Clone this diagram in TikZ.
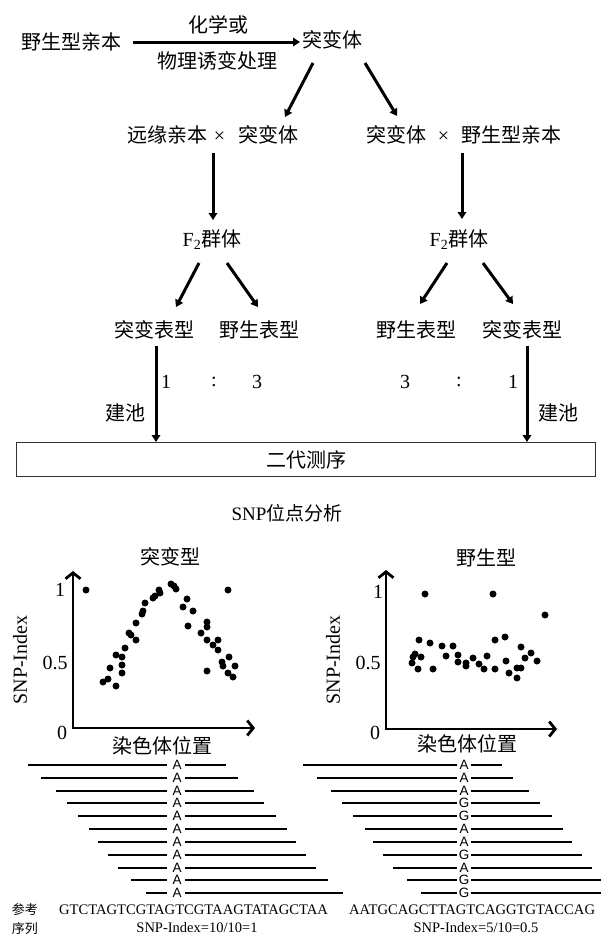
\documentclass[tikz,border=0pt]{standalone}
\usepackage{fontspec}
\setmainfont{Liberation Serif}
\newfontfamily\cjk{Noto Sans CJK SC}
\newfontfamily\arialf{Liberation Sans}
\usetikzlibrary{arrows.meta}
\begin{document}
\begin{tikzpicture}[x=1pt,y=-1pt,
  zh/.style={font=\cjk\fontsize{20}{24}\selectfont, inner sep=0pt},
  rm/.style={font=\fontsize{20}{24}\selectfont, inner sep=0pt},
  arr/.style={line width=3pt, -{Triangle[length=7pt,width=8.5pt]}},
  ax/.style={line width=2.8pt, {Straight Barb[length=6pt,width=15pt]}-{Straight Barb[length=6pt,width=15pt]}},
  rd/.style={line width=2pt},
  base/.style={font=\arialf\fontsize{13.5}{14}\selectfont, inner sep=0pt},
  seqt/.style={font=\fontsize{14.6}{16}\selectfont, inner sep=0pt},
  dotc/.style={fill=black}
]
\fill[white] (0,0) rectangle (601,937);
\useasboundingbox (0,0) rectangle (601,937);

% ---------- top flow ----------
\node[zh] (n1) at (71,42) {野生型亲本};
\node[zh] (n2) at (332,40) {突变体};
\node[zh] (lab1) at (218,25) {化学或};
\node[zh] (lab2) at (217,61) {物理诱变处理};
\draw[arr] ([shift={(62,0)}]n1.center) -- ([shift={(-32,2)}]n2.center);

\node[rm] (c1) at (213,135) {{\cjk 远缘亲本}\hspace{6pt}×\hspace{13pt}{\cjk 突变体}};
\node[rm] (c2) at (464,135) {{\cjk 突变体}\hspace{11pt}×\hspace{12pt}{\cjk 野生型亲本}};
\draw[arr] ([shift={(-19,23)}]n2.center) -- ([shift={(72,-18)}]c1.center);
\draw[arr] ([shift={(33,23)}]n2.center) -- ([shift={(-67,-19)}]c2.center);

\node[rm] (fL) at (212,240) {F\textsubscript{2}{\cjk 群体}};
\node[rm] (fR) at (459,240) {F\textsubscript{2}{\cjk 群体}};
\draw[arr] ([shift={(0,18)}]c1.center) -- ([shift={(1,-20)}]fL.center);
\draw[arr] ([shift={(-2,18)}]c2.center) -- ([shift={(3,-21)}]fR.center);

\node[zh] (pL1) at (154,330) {突变表型};
\node[zh] (pL2) at (259,330) {野生表型};
\node[zh] (pR1) at (416,330) {野生表型};
\node[zh] (pR2) at (522,330) {突变表型};
\draw[arr] ([shift={(-13,23)}]fL.center) -- ([shift={(22,-23)}]pL1.center);
\draw[arr] ([shift={(15,23)}]fL.center) -- ([shift={(-1,-23)}]pL2.center);
\draw[arr] ([shift={(-12,23)}]fR.center) -- ([shift={(4,-26)}]pR1.center);
\draw[arr] ([shift={(24,23)}]fR.center) -- ([shift={(-9,-26)}]pR2.center);

\node[rm] (r1) at (166,382) {1};
\node[rm] (r2) at (214,382) {:};
\node[rm] (r3) at (257,382) {3};
\node[rm] (r4) at (405,382) {3};
\node[rm] (r5) at (459,382) {:};
\node[rm] (r6) at (513,382) {1};
\node[zh] (jL) at (125,413) {建池};
\node[zh] (jR) at (558,413) {建池};

\node[draw=black!80, line width=1pt, minimum width=579pt, minimum height=34pt, inner sep=0pt] (box) at (305.5,459) {};
\node[zh] (boxt) at (306,460) {二代测序};
\draw[arr] ([shift={(2,16)}]pL1.center) -- ([shift={(-149.5,-17)}]box.center);
\draw[arr] ([shift={(5,16)}]pR2.center) -- ([shift={(221.5,-17)}]box.center);

\node[rm, font=\fontsize{19}{22}\selectfont] (snp) at (287,513) {SNP{\cjk 位点分析}};

% ---------- left plot ----------
\node[zh] (tL) at (170,557) {突变型};
\coordinate (oL) at (73,728);
\coordinate (yL) at (73,571);
\coordinate (xL) at (255,728);
\draw[ax] (yL) -- (oL) -- (xL);
\node[rm] (l1) at (60,590) {1};
\node[rm] (l05) at (55,663) {0.5};
\node[rm] (l0) at (62,733) {0};
\node[rm, rotate=90] (lyl) at (20,660) {SNP-Index};
\node[zh] (lxl) at (162,746) {染色体位置};
\foreach \px/\py in {86/590,103/682,108/679,110/668,116/655,116/686,122/657,122/665,122/673,125/648,129/633,131/635,136/640,136/623,142/614,143/611,145/603,153/598,155/596,159/590,160/593,171/584,174/586,176/589,183/607,187/599,188/626,193/611,201/633,207/622,207/627,207/671,207/640,213/645,218/640,218/650,222/662,223/666,228/590,229/657,235/666,228/673,233/677}
  \fill[dotc] (\px,\py) circle (3.5pt);

% ---------- right plot ----------
\node[zh] (tR) at (486,558) {野生型};
\coordinate (oR) at (386,729);
\coordinate (yR) at (386,570);
\coordinate (xR) at (557,729);
\draw[ax] (yR) -- (oR) -- (xR);
\node[rm] (m1) at (378,592) {1};
\node[rm] (m05) at (368,663) {0.5};
\node[rm] (m0) at (375,733) {0};
\node[rm, rotate=90] (ryl) at (333,660) {SNP-Index};
\node[zh] (rxl) at (467,744) {染色体位置};
\foreach \px/\py in {425/594,493/594,545/615,419/640,430/643,442/646,453/646,495/640,505/637,412/663,413/657,415/654,421/657,418/669,433/669,446/656,458/655,458/662,466/663,466/666,473/658,479/664,484/669,487/656,495/669,506/661,509/673,517/668,517/678,521/647,521/668,525/658,531/653,537/661}
  \fill[dotc] (\px,\py) circle (3.5pt);

% ---------- reads ----------
\foreach \ls/\re [count=\i from 0] in {28/226,41/238,56/254,67/264,78/276,89/287,98/296,108/306,118/316,131/328,146/343} {
  \pgfmathtruncatemacro{\yy}{765+12.83*\i+0.5}
  \draw[rd] (\ls,\yy) -- (167,\yy);
  \draw[rd] (185,\yy) -- (\re,\yy);
  \node[base] (la\i) at (177,\yy) {A};
}
\foreach \ls/\re/\b [count=\i from 0] in {303/502/A,317/513/A,331/529/A,342/540/G,353/552/G,365/563/A,373/572/A,383/582/G,393/592/A,407/604/G,421/604/G} {
  \pgfmathtruncatemacro{\yy}{765+12.83*\i+0.5}
  \draw[rd] (\ls,\yy) -- (457,\yy);
  \draw[rd] (471,\yy) -- (\re,\yy);
  \node[base] (lb\i) at (464,\yy) {\b};
}

\node[zh, font=\cjk\fontsize{13}{14}\selectfont] (ck1) at (25,910) {参考};
\node[zh, font=\cjk\fontsize{13}{14}\selectfont] (ck2) at (25,929) {序列};
\node[seqt, anchor=west] (sq1) at (59,910) {GTCTAGTCGTAGTCGTAAGTATAGCTAA};
\node[seqt, anchor=west] (sq2) at (349,910) {AATGCAGCTTAGTCAGGTGTACCAG};
\node[seqt, font=\fontsize{14.5}{16}\selectfont] (si1) at (197,928) {SNP-Index=10/10=1};
\node[seqt, font=\fontsize{14.5}{16}\selectfont] (si2) at (476,928) {SNP-Index=5/10=0.5};
\end{tikzpicture}
\end{document}
